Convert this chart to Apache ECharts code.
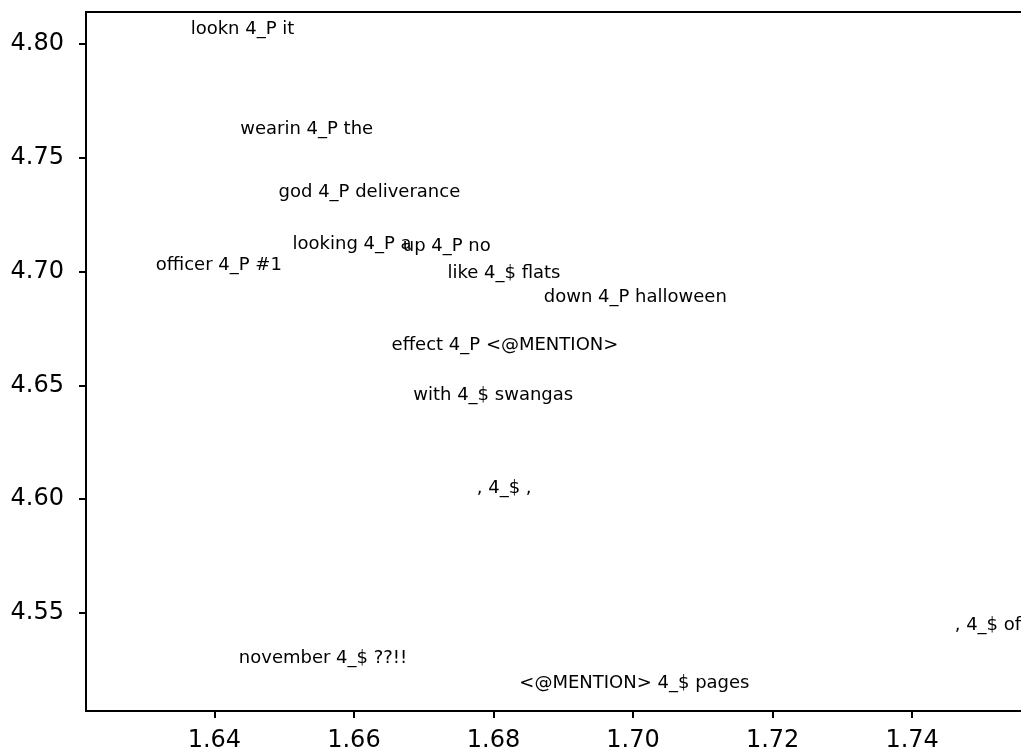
<!DOCTYPE html>
<html>
<head>
<meta charset="utf-8">
<script src="https://cdn.jsdelivr.net/npm/echarts@6/dist/echarts.min.js"></script>
<style>
html,body{margin:0;padding:0;background:#fff;overflow:hidden;}
#chart{width:1040px;height:751px;}
</style>
</head>
<body>
<div id="chart"></div>
<script>
const labels = [
  "lookn 4_P it",
  "wearin 4_P the",
  "god 4_P deliverance",
  "looking 4_P a",
  "up 4_P no",
  "officer 4_P #1",
  "like 4_$ flats",
  "down 4_P halloween",
  "effect 4_P <@MENTION>",
  "with 4_$ swangas",
  ", 4_$ ,",
  ", 4_$ of",
  "november 4_$ ??!!",
  "<@MENTION> 4_$ pages"
];
const xValues = [1.6366, 1.6437, 1.6492, 1.6512, 1.6670, 1.6316, 1.6734, 1.6872, 1.6654, 1.6685, 1.6776, 1.7461, 1.6435, 1.6837];
const yValues = [4.8041, 4.7605, 4.7328, 4.7097, 4.7087, 4.7007, 4.6971, 4.6866, 4.6655, 4.6434, 4.6027, 4.5422, 4.5277, 4.5168];
const xTicks = [1.64, 1.66, 1.68, 1.70, 1.72, 1.74];
const yTicks = [4.55, 4.60, 4.65, 4.70, 4.75, 4.80];

const xMin = Math.min(...xValues) - 0.01;
const xMax = Math.max(...xValues) + 0.01;
const yMin = Math.min(...yValues) - 0.01;
const yMax = Math.max(...yValues) + 0.01;

const chart = echarts.init(document.getElementById('chart'), null, {renderer: 'canvas'});
const font = 'DejaVu Sans';
chart.setOption({
  animation: false,
  backgroundColor: '#fff',
  textStyle: {fontFamily: font, color: '#000'},
  grid: {
    left: 86, top: 12, right: 15.5, bottom: 40,
    containLabel: false,
    outerBoundsMode: 'none',
    show: true, borderColor: '#000', borderWidth: 2, backgroundColor: 'transparent'
  },
  xAxis: {
    type: 'value', min: xMin, max: xMax,
    splitLine: {show: false},
    axisLine: {show: false},
    axisTick: {show: true, length: 7, lineStyle: {color: '#000', width: 2}, customValues: xTicks},
    axisLabel: {
      show: true, customValues: xTicks, margin: 18,
      color: '#000', fontSize: 24, fontFamily: font,
      formatter: v => Number(v).toFixed(2)
    }
  },
  yAxis: {
    type: 'value', min: yMin, max: yMax,
    splitLine: {show: false},
    axisLine: {show: false},
    axisTick: {show: true, length: 7, lineStyle: {color: '#000', width: 2}, customValues: yTicks},
    axisLabel: {
      show: true, customValues: yTicks, margin: 22,
      color: '#000', fontSize: 24, fontFamily: font,
      formatter: v => Number(v).toFixed(2)
    }
  },
  series: [{
    type: 'scatter',
    symbolSize: 0,
    silent: true,
    itemStyle: {color: '#000', opacity: 1},
    data: labels.map((t, i) => ({name: t, value: [xValues[i], yValues[i]]})),
    label: {
      show: true,
      position: 'right',
      distance: 0,
      offset: [0, -5],
      formatter: p => p.name,
      color: '#000000',
      opacity: 1,
      fontSize: 18,
      fontFamily: font
    }
  }]
});
</script>
</body>
</html>
